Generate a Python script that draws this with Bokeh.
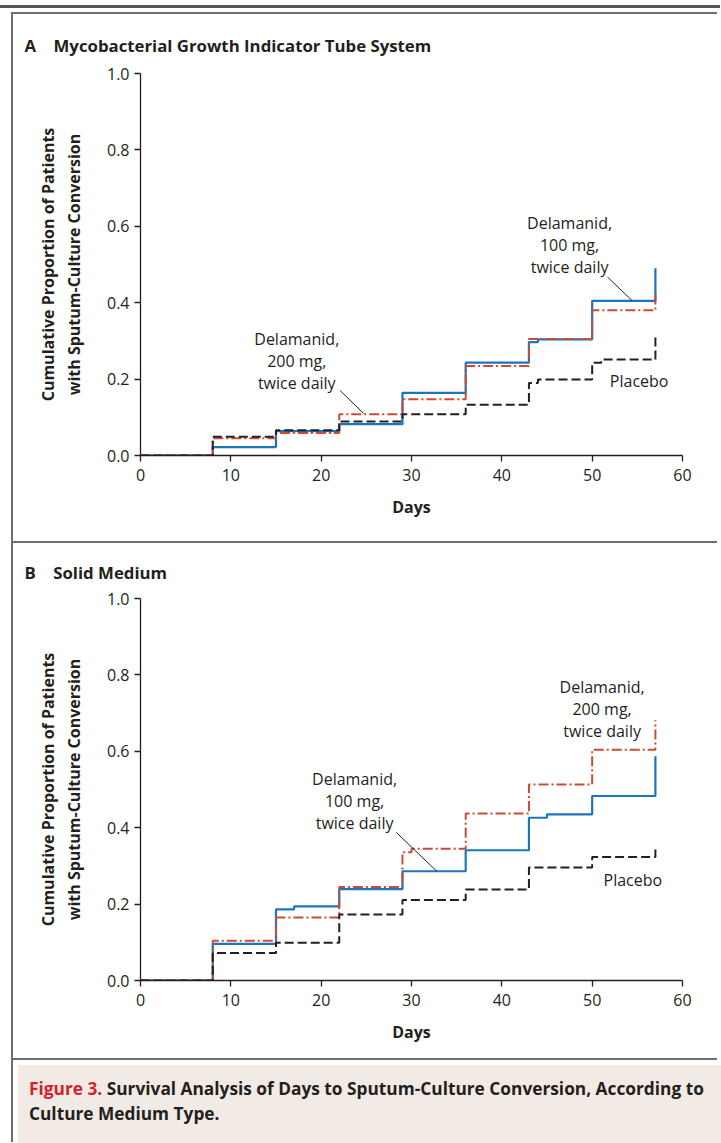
from bokeh.plotting import figure
from bokeh.models import Range1d, FixedTicker, Label, Title, Spacer, Div
from bokeh.layouts import column, row
from bokeh.embed import file_html
from bokeh.resources import INLINE

# ---------------- data ----------------
x_ticks = [0, 10, 20, 30, 40, 50, 60]
x_tick_labels = ["0", "10", "20", "30", "40", "50", "60"]
y_ticks = [0.0, 0.2, 0.4, 0.6, 0.8, 1.0]
y_tick_labels = ["0.0", "0.2", "0.4", "0.6", "0.8", "1.0"]

# Panel A: Mycobacterial Growth Indicator Tube System
a_days_100 = [0, 8, 15, 22, 29, 36, 43, 44, 50, 57]
a_prop_100 = [0, 0.022, 0.064, 0.082, 0.164, 0.243, 0.297, 0.304, 0.405, 0.49]
a_days_200 = [0, 8, 15, 22, 29, 36, 43, 50, 57]
a_prop_200 = [0, 0.045, 0.059, 0.108, 0.147, 0.234, 0.305, 0.38, 0.43]
a_days_pbo = [0, 8, 15, 22, 29, 36, 43, 44, 50, 51, 57]
a_prop_pbo = [0, 0.049, 0.066, 0.089, 0.108, 0.133, 0.190, 0.199, 0.243, 0.251, 0.31]

# Panel B: Solid Medium
b_days_100 = [0, 8, 15, 17, 22, 29, 36, 43, 45, 50, 57]
b_prop_100 = [0, 0.096, 0.186, 0.194, 0.239, 0.286, 0.341, 0.426, 0.435, 0.483, 0.587]
b_days_200 = [0, 8, 15, 22, 29, 30, 36, 43, 50, 57]
b_prop_200 = [0, 0.104, 0.165, 0.245, 0.336, 0.345, 0.437, 0.513, 0.604, 0.681]
b_days_pbo = [0, 8, 15, 22, 29, 36, 43, 50, 57]
b_prop_pbo = [0, 0.072, 0.099, 0.173, 0.211, 0.238, 0.296, 0.323, 0.352]

label_100 = "Delamanid,\n100 mg,\ntwice daily"
label_200 = "Delamanid,\n200 mg,\ntwice daily"
label_pbo = "Placebo"
title_a = "A\u00a0\u00a0\u00a0\u00a0Mycobacterial Growth Indicator Tube System"
title_b = "B\u00a0\u00a0\u00a0\u00a0Solid Medium"
caption_head = "Figure 3."
caption_line1 = "Survival Analysis of Days to Sputum-Culture Conversion, According to"
caption_line2 = "Culture Medium Type."

# ---------------- styles ----------------
BLUE = "#1b75bc"
RED = "#cc4b33"
BLACK = "#231f20"
GRAY = "#6e6e6e"
BEIGE = "#f2ebe5"
FONT = "Open Sans"
INNER_W = 704


def bar(w, h, color=GRAY):
    return Spacer(width=w, height=h, styles={"background-color": color})


def make_panel(height, top_border, bottom_border, title, title_standoff, series, notes, leaders):
    p = figure(width=INNER_W, height=height, x_range=Range1d(0, 60), y_range=Range1d(0, 1),
               toolbar_location=None, output_backend="svg",
               min_border_left=127, min_border_right=35,
               min_border_top=top_border, min_border_bottom=bottom_border,
               background_fill_color="white", border_fill_color="white")
    p.outline_line_color = None
    p.grid.visible = False
    for ax in (p.xaxis[0], p.yaxis[0]):
        ax.major_tick_out = 6
        ax.major_tick_in = 0
        ax.minor_tick_out = 0
        ax.minor_tick_in = 0
        ax.axis_line_color = BLACK
        ax.axis_line_width = 1.3
        ax.major_tick_line_color = BLACK
        ax.major_tick_line_width = 1.3
        ax.major_label_text_font = FONT
        ax.major_label_text_font_size = "16px"
        ax.major_label_text_color = BLACK
        ax.axis_label_text_font = FONT
        ax.axis_label_text_font_style = "bold"
        ax.axis_label_text_font_size = "16px"
        ax.axis_label_text_color = BLACK
    p.xaxis.ticker = FixedTicker(ticks=x_ticks)
    p.xaxis.major_label_overrides = dict(zip(x_ticks, x_tick_labels))
    p.yaxis.ticker = FixedTicker(ticks=y_ticks)
    p.yaxis.major_label_overrides = dict(zip(y_ticks, y_tick_labels))
    p.xaxis.axis_label = "Days"
    p.xaxis.major_label_standoff = 7
    p.xaxis.axis_label_standoff = 12
    p.yaxis.axis_label = "Cumulative Proportion of Patients\nwith Sputum-Culture Conversion"
    p.yaxis.major_label_standoff = 5
    p.yaxis.axis_label_standoff = 19

    for days, prop, color, dash, lw in series:
        p.step(x=days, y=prop, mode="after", line_color=color, line_width=lw, line_dash=dash)

    for text, x, y in notes:
        p.add_layout(Label(x=x, y=y, text=text, text_align="center", text_baseline="middle",
                           text_font=FONT, text_font_size="16px", text_color=BLACK,
                           text_line_height=1.0))
    for x0, y0, x1, y1 in leaders:
        p.segment(x0=[x0], y0=[y0], x1=[x1], y1=[y1], line_color=BLACK, line_width=1)

    p.add_layout(Title(text=title, align="left", offset=-116, vertical_align="middle",
                       standoff=title_standoff, text_font=FONT, text_font_style="bold",
                       text_font_size="16.8px", text_color=BLACK), "above")
    return p


pA = make_panel(
    527, 59, 86, title_a, 32,
    [(a_days_100, a_prop_100, BLUE, "solid", 2.2),
     (a_days_200, a_prop_200, RED, "10 3 2 3", 2),
     (a_days_pbo, a_prop_pbo, BLACK, "9 4", 2)],
    [(label_200, 17.3, 0.247), (label_100, 47.5, 0.550), (label_pbo, 55.2, 0.194)],
    [(22.1, 0.170, 24.7, 0.110), (51.7, 0.467, 54.4, 0.406)],
)

pB = make_panel(
    515, 55, 78, title_b, 28,
    [(b_days_100, b_prop_100, BLUE, "solid", 2.2),
     (b_days_200, b_prop_200, RED, "10 3 2 3", 2),
     (b_days_pbo, b_prop_pbo, BLACK, "9 4", 2)],
    [(label_100, 23.7, 0.471), (label_200, 51.1, 0.711), (label_pbo, 54.5, 0.264)],
    [(28.3, 0.388, 32.8, 0.286)],
)

caption = Div(
    width=INNER_W, height=82,
    styles={"background-color": BEIGE},
    text=(
        "<div style=\"padding:11px 0 0 11px; font-family:'Open Sans'; font-weight:700; "
        "font-size:17.3px; line-height:25px; color:%s; white-space:nowrap;\">"
        "<span style=\"color:#d5202e\">%s</span> %s<br>%s</div>"
        % (BLACK, caption_head, caption_line1, caption_line2)
    ),
)

inner = column(bar(INNER_W, 2), pA, bar(INNER_W, 2), pB, bar(INNER_W, 2), caption, spacing=0)
body = row(Spacer(width=11, height=1130), bar(2, 1130), inner, bar(2, 1130),
           Spacer(width=1, height=1130), spacing=0)
layout = column(Spacer(width=720, height=5), bar(720, 3, "#555555"),
                Spacer(width=720, height=4), body, spacing=0)

open("out.html", "w").write(file_html(layout, INLINE))
